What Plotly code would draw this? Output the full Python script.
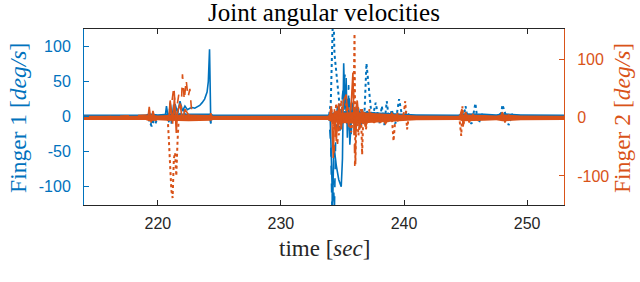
import plotly.graph_objects as go

# ---------------- data ----------------
x_ticks = [220, 230, 240, 250]
y1_ticks = [-100, -50, 0, 50, 100]
y1_ticktext = ["-100", "-50", "0", "50", "100"]
y2_ticks = [-100, 0, 100]
y2_ticktext = ["-100", "0", "100"]

# noise band half-width around zero (left units for finger 1, right units for finger 2)
band_t = [214, 219.0, 219.3, 220.0, 220.8, 222.5, 224.3, 224.5, 233.8, 234.2, 236.0,
          238.0, 240.0, 241.0, 244.4, 244.8, 246.5, 247.5, 248.0, 249.5, 253]
f1_band = [3, 3, 5, 3.5, 4.5, 5, 4.5, 3, 3, 6, 8, 6, 5, 3.5, 3, 5, 4.5, 3.5, 5, 3.5, 3]
f2_band = [3.5, 3.5, 6, 4, 5, 6, 5, 3.5, 3.5, 8, 10, 8, 6, 4, 3.5, 6, 5, 4, 6, 4, 3.5]

# Finger 1 (blue) - joint 1 solid
f1_j1_t = [214, 220.6, 220.7, 220.9, 221.0, 221.2, 221.4, 221.6, 221.8, 222.0, 222.2,
           222.4, 222.6, 222.8, 223.0, 223.2, 223.4, 223.6, 223.8, 224.0, 224.1, 224.2,
           224.25, 224.3, 224.35, 224.5, 234.0, 234.1, 234.2, 234.3, 234.5, 234.7, 234.9,
           235.0, 235.1, 235.2, 235.3, 235.4, 235.5, 235.6, 235.8, 236.0, 236.2, 236.4,
           236.6, 236.8, 237.0, 237.3, 237.6, 238.0, 238.4, 238.8, 239.2, 239.6, 240.0,
           240.5, 241, 253]
f1_j1_v = [0, 0, 15, -8, 20, -5, 18, 5, 22, 8, 15,
           10, 12, 13, 12, 14, 16, 20, 25, 35, 50, 96,
           40, -8, 0, 0, 0, -60, -130, -40, -70, -90, -100,
           -60, 76, 10, 55, -30, 30, -40, 20, -20, 15, -15,
           10, -10, 8, -5, 5, -4, 3, -3, 2, -2, 0,
           0, 0, 0]

# Finger 1 - joint 2 dashed
f1_j2_t = [214, 219.1, 219.25, 219.4, 219.55, 219.7, 219.85, 220.0, 220.9, 221.0, 221.1,
           221.3, 221.5, 221.7, 221.9, 222.1, 222.3, 222.5, 223.0, 224.2, 224.3, 224.4,
           233.9, 234.05, 234.15, 234.25, 234.35, 234.45, 234.6, 234.8, 235.0, 235.2,
           235.35, 235.5, 235.7, 235.9, 236.1, 236.3, 236.5, 236.8, 237.1, 237.5, 238.0,
           238.5, 239.0, 239.5, 240.0, 240.5, 241.0, 253]
f1_j2_v = [0, 0, -6, -12, -4, -10, -3, 0, 0, 18, -10,
           20, -8, 15, -5, 10, -3, 3, 0, 0, -10, 0,
           0, -40, -135, -90, -130, -30, 20, -20, 30, 60,
           -10, 45, -25, 20, -15, 12, -12, 8, -6, 5, -4,
           4, -3, 3, -2, 2, 0, 0]

# Finger 1 - joint 3 dotted
f1_j3_t = [214, 219.2, 219.35, 219.5, 219.65, 219.8, 220.0, 233.9, 234.05, 234.15, 234.25,
           234.35, 234.5, 234.65, 234.8, 235.0, 235.3, 235.6, 236.0, 236.4, 236.8, 236.95,
           237.05, 237.2, 237.4, 237.7, 238.0, 238.2, 238.4, 238.6, 238.8, 239.0, 239.3,
           239.6, 239.9, 240.2, 240.5, 241, 244.6, 244.9, 245.0, 245.2, 245.5, 245.8,
           245.9, 246.1, 246.4, 246.8, 247.5, 247.9, 248.0, 248.2, 248.5, 248.8, 249.2, 253]
f1_j3_v = [0, 0, -8, -14, -6, -10, 0, 0, 20, 150, 160,
           90, 60, 30, 10, -10, 15, -20, 10, -15, 10, 76,
           60, 35, -5, 20, -10, 15, -12, 22, -8, 10, -10,
           25, -5, 8, 0, 0, 0, 5, 15, -5, -10, 19,
           5, -8, 5, -3, 0, 5, 17, 6, -12, 3, -2, 0]

# Finger 2 (orange) - joint 1 solid
f2_j1_t = [214, 219.2, 219.3, 219.45, 219.6, 219.8, 220.0, 220.9, 221.0, 221.2, 221.35,
           221.5, 221.6, 221.8, 222.0, 222.2, 222.5, 223, 224.2, 224.3, 224.4, 233.9,
           234.1, 234.25, 234.35, 234.5, 234.7, 234.9, 235.1, 235.3, 235.5, 235.7, 235.85,
           235.95, 236.05, 236.2, 236.4, 236.6, 236.9, 237.2, 237.6, 238, 238.5, 239.0,
           239.5, 240.0, 240.5, 241, 244.5, 244.7, 244.8, 245.0, 245.3, 245.6, 246.0,
           246.5, 247.8, 248.0, 248.2, 248.5, 249, 253]
f2_j1_v = [0, 0, 19, -8, 12, -5, 0, 0, 30, -10, 35,
           -26, 10, 25, -5, 15, 5, 0, 0, 8, 0, 0,
           20, -69, 15, -40, 25, -20, 30, 40, -15, 20, 78,
           -30, 10, 30, -20, 15, -15, 10, -8, 6, -10, 8,
           -5, 4, -2, 0, 0, 15, -15, 10, -8, 6, -4,
           0, 0, 10, -8, 5, 0, 0]

# Finger 2 - joint 2 dashed
f2_j2_t = [214, 219.3, 219.5, 219.8, 220.9, 221.1, 221.3, 221.45, 221.7, 221.9, 222.0,
           222.15, 222.3, 222.45, 222.6, 222.75, 223.0, 233.9, 234.2, 234.3, 234.45, 234.6,
           234.8, 235.0, 235.3, 235.6, 235.9, 236.0, 236.1, 236.3, 236.5, 236.8, 237.1,
           237.5, 238, 238.5, 239, 239.5, 240, 241, 253]
f2_j2_v = [0, 5, -5, 0, 0, 20, 54, 5, 40, 15, 75,
           30, 66, 35, 50, 10, 0, 0, 10, -60, -20, -45,
           15, -10, 25, 5, 60, -83, -20, 20, -15, 10, -8,
           6, -5, 4, -3, 3, -2, 0, 0]

# Finger 2 - joint 3 dotted
f2_j3_t = [214, 220.8, 220.9, 221.0, 221.1, 221.2, 221.3, 221.4, 221.5, 221.6, 221.7,
           233.9, 234.1, 234.3, 234.5, 234.7, 234.9, 235.1, 235.4, 235.7, 235.9, 235.98,
           236.05, 236.15, 236.3, 236.5, 236.6, 236.7, 236.9, 237.2, 237.5, 237.8, 238.1,
           238.4, 238.7, 239.0, 239.15, 239.3, 239.5, 239.8, 240.0, 240.1, 240.25, 240.4,
           240.7, 241, 244.5, 244.65, 244.75, 244.85, 245.0, 245.3, 245.6, 246, 253]
f2_j3_v = [0, 0, -40, -90, -125, -138, -70, -60, -100, -40, 0,
           0, 15, -20, 25, -30, 30, -10, 20, -25, 10, 145,
           -80, 20, -30, 15, -63, 10, -20, 15, -10, 8, -8,
           6, -5, 5, -40, 0, 8, -6, 10, 29, -20, 5,
           -3, 0, 0, -31, 20, -10, 8, -5, 4, 0, 0]

title_text = "Joint angular velocities"
xlabel = "time [<i>sec</i>]"
y1label = "Finger 1 [<i>deg/s</i>]"
y2label = "Finger 2 [<i>deg/s</i>]"
caption = "Fig. 10:  Joint angular velocities with respect to the time of the experiment."

# ---------------- style ----------------
BLUE = "#0072BD"
ORANGE = "#D95319"
DARK = "#262626"
SERIF = "Liberation Serif"
SANS = "Liberation Sans"

fig = go.Figure()


def add_band(t, a, color, axis):
    fig.add_trace(go.Scatter(x=t, y=a, mode="lines", line=dict(width=0, color=color),
                             yaxis=axis, showlegend=False, hoverinfo="skip"))
    fig.add_trace(go.Scatter(x=t, y=[-v for v in a], mode="lines",
                             line=dict(width=0, color=color), fill="tonexty",
                             fillcolor=color, yaxis=axis, showlegend=False,
                             hoverinfo="skip"))


add_band(band_t, f1_band, BLUE, "y")
for t, v, dash, w in [(f1_j1_t, f1_j1_v, "solid", 1.6),
                      (f1_j2_t, f1_j2_v, "dash", 1.6),
                      (f1_j3_t, f1_j3_v, "dot", 2.0)]:
    fig.add_trace(go.Scatter(x=t, y=v, mode="lines", yaxis="y",
                             line=dict(color=BLUE, width=w, dash=dash),
                             showlegend=False))

add_band(band_t, f2_band, ORANGE, "y2")
for t, v, dash, w in [(f2_j1_t, f2_j1_v, "solid", 1.6),
                      (f2_j2_t, f2_j2_v, "dash", 1.6),
                      (f2_j3_t, f2_j3_v, "dot", 2.0)]:
    fig.add_trace(go.Scatter(x=t, y=v, mode="lines", yaxis="y2",
                             line=dict(color=ORANGE, width=w, dash=dash),
                             showlegend=False))

fig.update_layout(
    width=640, height=282,
    margin=dict(l=84, r=76, t=29, b=77, autoexpand=False),
    plot_bgcolor="white", paper_bgcolor="white",
    xaxis=dict(range=[214, 253], tickvals=x_ticks, ticks="inside", ticklen=5,
               tickcolor=DARK, showline=True, linecolor=DARK, linewidth=1,
               mirror="ticks", showgrid=False, zeroline=False, automargin=False,
               ticklabelstandoff=4,
               tickfont=dict(family=SANS, size=16, color=DARK)),
    yaxis=dict(range=[-126, 125], tickvals=y1_ticks, ticktext=y1_ticktext,
               ticks="inside", ticklen=5, tickcolor=BLUE, showline=True,
               linecolor=BLUE, linewidth=1, showgrid=False, zeroline=False,
               automargin=False, ticklabelstandoff=9,
               tickfont=dict(family=SANS, size=16, color=BLUE)),
    yaxis2=dict(range=[-150, 153], tickvals=y2_ticks, ticktext=y2_ticktext,
                overlaying="y", side="right", ticks="inside", ticklen=5,
                tickcolor=ORANGE, showline=True, linecolor=ORANGE, linewidth=1,
                showgrid=False, zeroline=False, automargin=False,
                ticklabelstandoff=9,
                tickfont=dict(family=SANS, size=16, color=ORANGE)),
)

ann = [
    dict(text=title_text, x=0.5, y=1.093, font=dict(family=SERIF, size=25, color="black")),
    dict(text=xlabel, x=0.5, y=-0.245, font=dict(family=SERIF, size=23, color=DARK)),
    dict(text=y1label, x=-0.1375, y=0.495, textangle=-90,
         font=dict(family=SERIF, size=23.5, color=BLUE)),
    dict(text=y2label, x=1.121, y=0.495, textangle=-90,
         font=dict(family=SERIF, size=23.5, color=ORANGE)),
]
for a in ann:
    fig.add_annotation(xref="paper", yref="paper", showarrow=False,
                       xanchor="center", yanchor="middle", **a)
fig.add_annotation(text=caption, xref="paper", yref="paper", x=-0.175, y=-0.45,
                   xanchor="left", yanchor="top", showarrow=False,
                   font=dict(family=SERIF, size=23, color="#333333"))

# remove the default page margin so the figure fills the window from its corner
fig.write_html("out.html", config={"displayModeBar": False},
               post_script="document.body.style.margin='0';")
